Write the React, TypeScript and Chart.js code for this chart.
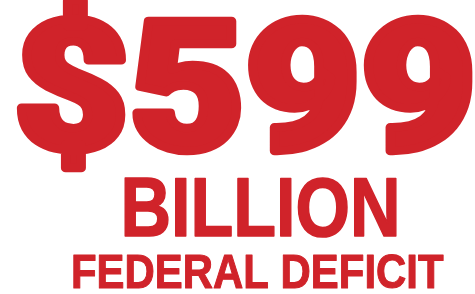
import React, { useEffect, useRef } from "react";
import { Chart, registerables } from "chart.js";

Chart.register(...registerables);

// Text content of the graphic
const AMOUNT = "$599";
const UNIT = "BILLION";
const LABEL = "FEDERAL DEFICIT";
const LINES: string[] = [AMOUNT, UNIT, LABEL];
// Reference glyphs used to measure cap height for each line
const REF_GLYPHS: string[] = ["599", "BILLN", "FEDERAL DEFIT"];

const RED = "#d0232a";

// Layout boxes (left, right, capTop, baseline) in canvas px; stroke thickens the glyphs
const BOXES = [
  { l: 17, r: 473, t: 14, b: 153, stroke: 9, font: '900 100px Roboto, Inter, "Liberation Sans", sans-serif' },
  { l: 124, r: 397, t: 177, b: 237, stroke: 1.5, font: 'bold 100px "Liberation Sans", Arial, sans-serif' },
  { l: 73, r: 444, t: 253, b: 288, stroke: 1, font: 'bold 100px "Liberation Sans Narrow", "Liberation Sans", sans-serif' },
];

const textPlugin = {
  id: "headlineText",
  afterDraw(chart: any) {
    const ctx: CanvasRenderingContext2D = chart.ctx;
    LINES.forEach((txt, i) => {
      const box = BOXES[i];
      const hs = box.stroke / 2;
      ctx.save();
      ctx.font = box.font;
      ctx.textBaseline = "alphabetic";
      ctx.textAlign = "left";
      const m = ctx.measureText(txt);
      const ref = ctx.measureText(REF_GLYPHS[i]);
      const w = m.actualBoundingBoxLeft + m.actualBoundingBoxRight;
      const h = ref.actualBoundingBoxAscent;
      const sx = (box.r - box.l - box.stroke) / w;
      const sy = (box.b - box.t - box.stroke) / h;
      ctx.translate(box.l + hs, box.b - hs);
      ctx.scale(sx, sy);
      ctx.fillStyle = RED;
      ctx.fillText(txt, m.actualBoundingBoxLeft, 0);
      if (box.stroke > 0) {
        ctx.strokeStyle = RED;
        ctx.lineJoin = "round";
        ctx.lineWidth = box.stroke / Math.sqrt(sx * sy);
        ctx.strokeText(txt, m.actualBoundingBoxLeft, 0);
      }
      ctx.restore();
    });
  },
};

export default function App() {
  const ref = useRef<HTMLCanvasElement | null>(null);
  useEffect(() => {
    document.body.style.margin = "0";
    const canvas = ref.current!;
    const chart = new Chart(canvas, {
      type: "bar",
      data: { labels: [], datasets: [] },
      options: {
        animation: false,
        responsive: false,
        plugins: { legend: { display: false }, tooltip: { enabled: false }, title: { display: false } },
        scales: { x: { display: false }, y: { display: false } },
      },
      plugins: [textPlugin],
    });
    return () => chart.destroy();
  }, []);
  return (
    <div style={{ width: 475, height: 294, background: "#fff" }}>
      <canvas ref={ref} width={475} height={294} />
    </div>
  );
}
